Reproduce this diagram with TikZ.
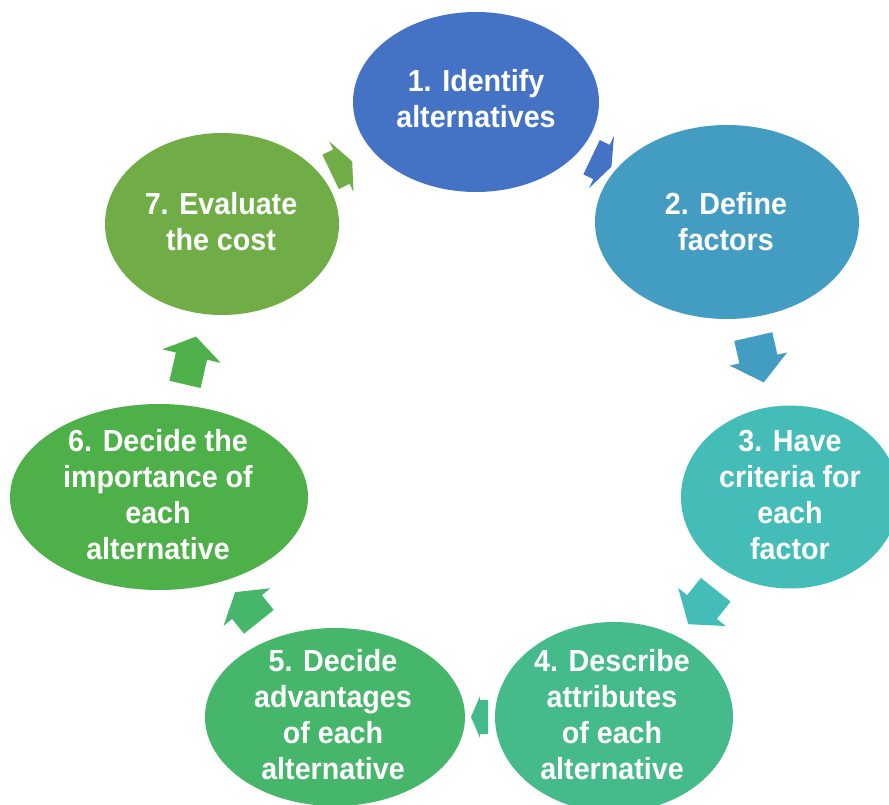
\documentclass[tikz,border=0pt]{standalone}
\usepackage{fontspec}
\setmainfont{Liberation Sans}[FakeStretch=0.94]
\usetikzlibrary{shapes.geometric}
\definecolor{c1}{HTML}{4472C4}
\definecolor{c2}{HTML}{439CC2}
\definecolor{c3}{HTML}{44BDB8}
\definecolor{c4}{HTML}{45BA8B}
\definecolor{c5}{HTML}{46B66A}
\definecolor{c6}{HTML}{4EB048}
\definecolor{c7}{HTML}{70AD47}
\begin{document}
\begin{tikzpicture}[x=1pt,y=-1pt,
  bubble/.style={ellipse, inner sep=0pt, draw=none},
  txt/.style={text=white, align=center, font=\fontsize{30.5}{36}\selectfont\bfseries, inner sep=0pt},
  pics/blockarrow/.style n args={5}{code={
    \fill[#5] ({-#1/2},{#3/2}) -- ({#1/2-#2},{#3/2}) -- ({#1/2-#2},{#4/2}) -- ({#1/2},0)
      -- ({#1/2-#2},{-#4/2}) -- ({#1/2-#2},{-#3/2}) -- ({-#1/2},{-#3/2}) -- cycle;}},
  onpath/.style={pos=0.5, sloped, allow upside down}
]
\clip (0,0) rectangle (889,805);
\fill[white] (0,0) rectangle (889,805);
% ellipses
\node[bubble, fill=c1, minimum width=246pt, minimum height=180pt] (e1) at (476,102) {};
\node[bubble, fill=c2, minimum width=264pt, minimum height=194pt] (e2) at (727,222) {};
\node[bubble, fill=c3, minimum width=218pt, minimum height=183pt] (e3) at (790,497) {};
\node[bubble, fill=c4, minimum width=238pt, minimum height=190pt] (e4) at (614,717) {};
\node[bubble, fill=c5, minimum width=260pt, minimum height=178pt] (e5) at (335,717) {};
\node[bubble, fill=c6, minimum width=298pt, minimum height=186pt] (e6) at (159,497) {};
\node[bubble, fill=c7, minimum width=234pt, minimum height=182pt] (e7) at (222,224) {};
% arrows
\path (e1.center) -- pic[onpath]{blockarrow={22}{11}{38}{58}{c1}} (e2.center);
\path (e2.center) -- pic[onpath]{blockarrow={47}{24}{39}{59}{c2}} (e3.center);
\path (e3.center) -- pic[onpath]{blockarrow={44}{22}{38}{61}{c3}} (e4.center);
\path (e4.center) -- pic[onpath, pos=0.482]{blockarrow={17}{9}{34}{42}{c4}} (e5.center);
\path (e5.center) -- pic[onpath]{blockarrow={38}{19}{38}{60}{c5}} (e6.center);
\path (e6.center) -- pic[onpath]{blockarrow={49}{20}{32}{60}{c6}} (e7.center);
\path (e7.center) -- pic[onpath, pos=0.47]{blockarrow={24}{12}{38}{56}{c7}} (e1.center);
% texts
\node[txt] (t1) at (476,99) {1. Identify\\alternatives};
\node[txt] (t2) at (726,222) {2. Define\\factors};
\node[txt] (t3) at (790,495) {3. Have\\criteria for\\each\\factor};
\node[txt] (t4) at (612,715) {4. Describe\\attributes\\of each\\alternative};
\node[txt] (t5) at (333,715) {5. Decide\\advantages\\of each\\alternative};
\node[txt] (t6) at (158,495) {6. Decide the\\importance of\\each\\alternative};
\node[txt] (t7) at (221,222) {7. Evaluate\\the cost};
\end{tikzpicture}
\end{document}
